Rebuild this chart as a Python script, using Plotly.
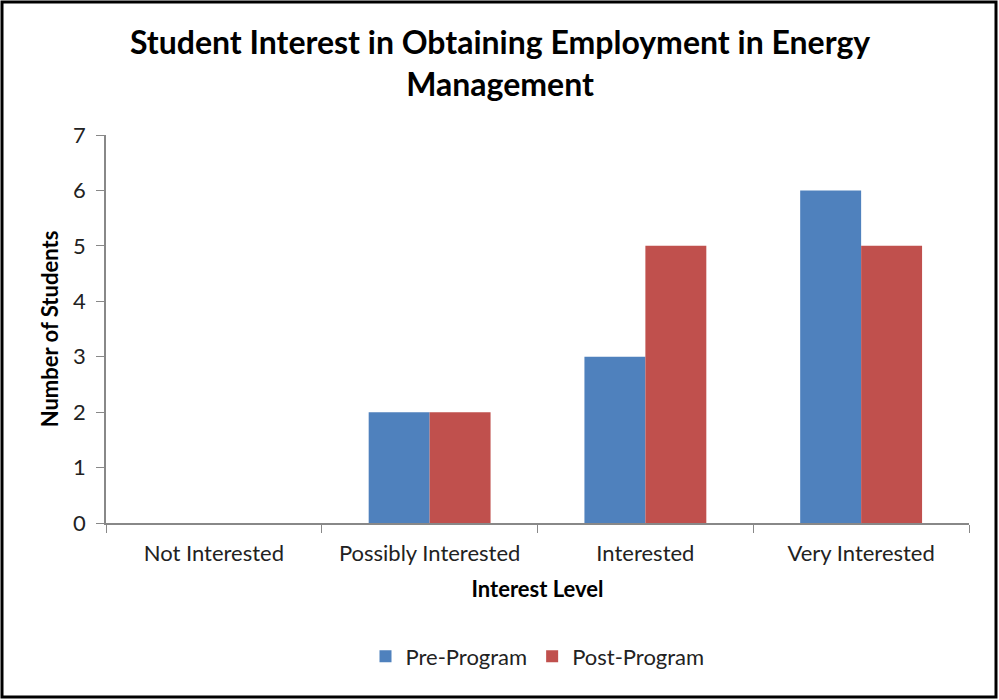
import plotly.graph_objects as go

categories = ['Not Interested', 'Possibly Interested', 'Interested', 'Very Interested']
pre_program = [0, 2, 3, 6]
post_program = [0, 2, 5, 5]

W, H = 999, 700
ML, MR, MT, MB = 106, 30, 135, 177
pw = W - ML - MR
ph = H - MT - MB

fig = go.Figure()
fig.add_trace(go.Bar(x=categories, y=pre_program, name='Pre-Program',
                     marker=dict(color='#4F81BD', line=dict(width=0))))
fig.add_trace(go.Bar(x=categories, y=post_program, name='Post-Program',
                     marker=dict(color='#C0504D', line=dict(width=0))))

font = 'Lato, Calibri, Carlito, sans-serif'

fig.update_layout(
    width=W, height=H,
    margin=dict(l=ML, r=MR, t=MT, b=MB),
    paper_bgcolor='white', plot_bgcolor='white',
    barmode='group', bargap=0.435, bargroupgap=0,
    font=dict(family=font, size=22, color='#222222'),
    legend=dict(orientation='h', x=0.5, xanchor='center', y=-0.29, yanchor='top',
                font=dict(size=22), itemwidth=30, traceorder='normal'),
)

# title as annotation so its position is exact
fig.add_annotation(
    text='<b>Student Interest in Obtaining Employment in Energy<br>Management</b>',
    xref='paper', yref='paper', x=(500 - ML) / pw, y=(MT + ph - 20) / ph,
    xanchor='center', yanchor='top', showarrow=False,
    font=dict(family=font, size=32, color='black'),
)

fig.update_xaxes(
    showline=True, linecolor='#888888', linewidth=1.5,
    ticks='outside', ticklen=8, tickcolor='#888888', tickson='boundaries',
    ticklabelstandoff=10, showgrid=False,
    title=dict(text='<b>Interest Level</b>', font=dict(size=22, color='black'), standoff=16),
)
fig.update_yaxes(
    range=[0, 7], dtick=1,
    showline=True, linecolor='#888888', linewidth=1.5,
    ticks='outside', ticklen=8, tickcolor='#888888',
    ticklabelstandoff=6, showgrid=False, zeroline=False,
    title=dict(text='<b>Number of Students</b>', font=dict(size=22, color='black'), standoff=8),
)

# chart border
fig.add_shape(type='rect', xref='paper', yref='paper',
              x0=(2 - ML) / pw, x1=(W - 3 - ML) / pw,
              y0=(MT + ph - (H - 3)) / ph, y1=(MT + ph - 2) / ph,
              line=dict(color='black', width=3), layer='above')

fig.write_html('out.html', config={'displayModeBar': False},
               post_script="document.body.style.margin='0';")
